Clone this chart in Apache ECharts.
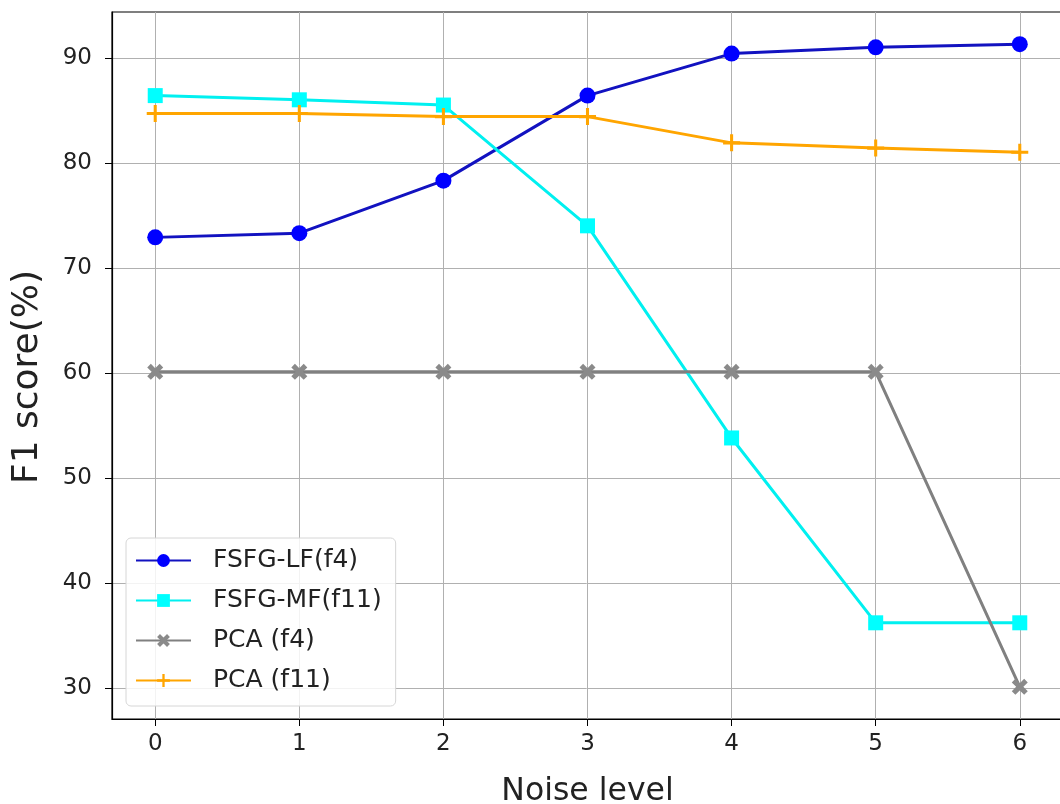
<!DOCTYPE html>
<html><head><meta charset="utf-8">
<script src="https://cdn.jsdelivr.net/npm/echarts@6/dist/echarts.min.js"></script>
<style>html,body{margin:0;padding:0;background:#fff}#c{width:1060px;height:804px}</style>
</head><body><div id="c"></div>
<script>
const noiseLevels = [0, 1, 2, 3, 4, 5, 6];
const fsfgLF = [72.9, 73.3, 78.3, 86.4, 90.4, 91.0, 91.3];
const fsfgMF = [86.4, 86.0, 85.5, 74.0, 53.8, 36.2, 36.2];
const pcaF4 = [60.1, 60.1, 60.1, 60.1, 60.1, 60.1, 30.1];
const pcaF11 = [84.7, 84.7, 84.4, 84.4, 81.9, 81.4, 81.0];
const yTicks = [30, 40, 50, 60, 70, 80, 90];
const seriesNames = ['FSFG-LF(f4)', 'FSFG-MF(f11)', 'PCA (f4)', 'PCA (f11)'];
const xTitle = 'Noise level';
const yTitle = 'F1 score(%)';

const pair = arr => noiseLevels.map((x, i) => [x, arr[i]]);
const font = 'DejaVu Sans';
const chart = echarts.init(document.getElementById('c'), null, {renderer: 'canvas'});
const xPath = 'path://M-1,-0.55L-0.55,-1L0,-0.45L0.55,-1L1,-0.55L0.45,0L1,0.55L0.55,1L0,0.45L-0.55,1L-1,0.55L-0.45,0Z';
const plusPath = 'path://M-0.18,-1L0.18,-1L0.18,-0.18L1,-0.18L1,0.18L0.18,0.18L0.18,1L-0.18,1L-0.18,0.18L-1,0.18L-1,-0.18L-0.18,-0.18Z';

function mk(name, data, lineColor, fill, symbol, size) {
  return {
    name, type: 'line', data: pair(data), symbol, symbolSize: size,
    lineStyle: {color: lineColor, width: 3},
    itemStyle: {color: fill, borderColor: fill, borderWidth: 0},
    emphasis: {disabled: true}, animation: false
  };
}

chart.setOption({
  animation: false,
  grid: {left: 112, top: 12, width: 951, height: 707, outerBoundsMode: 'none', containLabel: false,
         show: true, borderColor: '#000', borderWidth: 1.2, backgroundColor: 'transparent'},
  legend: {
    orient: 'vertical', left: 126, top: 538, padding: [10, 14, 13, 9],
    itemWidth: 55, itemHeight: 16, itemGap: 15,
    backgroundColor: 'rgba(255,255,255,0.85)', borderColor: '#d6d6d6', borderWidth: 1, borderRadius: 5,
    textStyle: {fontFamily: font, fontSize: 25, color: '#222', padding: [0, 0, 0, 17]},
    data: seriesNames
  },
  graphic: [{
    type: 'text', x: 28, y: 377, rotation: Math.PI / 2,
    style: {text: yTitle, font: '36px "DejaVu Sans"', fill: '#222', align: 'center', verticalAlign: 'middle'}
  }],
  xAxis: {
    type: 'value', min: -0.3, max: 6.3,
    name: xTitle, nameLocation: 'middle', nameGap: 57,
    nameTextStyle: {fontFamily: font, fontSize: 31.5, color: '#222'},
    axisLine: {show: true, onZero: false, lineStyle: {color: '#000', width: 1.2}},
    axisTick: {show: true, customValues: noiseLevels, length: 7, lineStyle: {color: '#000'}},
    axisLabel: {customValues: noiseLevels, fontFamily: font, fontSize: 23, color: '#222', margin: 14},
    splitLine: {show: true, customValues: noiseLevels, lineStyle: {color: '#b0b0b0', width: 1}}
  },
  yAxis: {
    type: 'value', min: 27.04, max: 94.36,
    axisLine: {show: true, onZero: false, lineStyle: {color: '#000', width: 1.2}},
    axisTick: {show: true, customValues: yTicks, length: 7, lineStyle: {color: '#000'}},
    axisLabel: {customValues: yTicks, fontFamily: font, fontSize: 23, color: '#222', margin: 20},
    splitLine: {show: true, customValues: yTicks, lineStyle: {color: '#b0b0b0', width: 1}}
  },
  series: [
    mk(seriesNames[0], fsfgLF, '#1212c0', '#0000ff', 'circle', 16),
    mk(seriesNames[1], fsfgMF, '#00f0f0', '#00ffff', 'rect', 15),
    mk(seriesNames[2], pcaF4, '#808080', '#8a8a8a', xPath, 16),
    mk(seriesNames[3], pcaF11, '#ffa500', '#ffa500', plusPath, 17)
  ]
});
</script></body></html>
